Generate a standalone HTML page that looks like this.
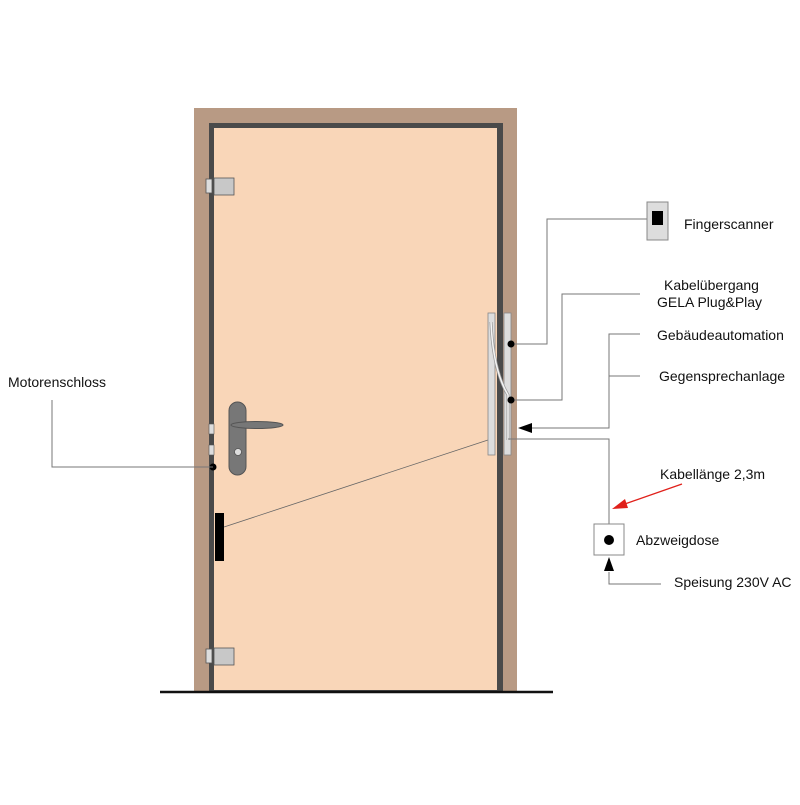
<!DOCTYPE html>
<html><head><meta charset="utf-8"><style>
body{margin:0;background:#fff}
svg text{font-family:"Liberation Sans",sans-serif;font-size:14px;fill:#111}
</style></head><body>
<svg width="800" height="800" viewBox="0 0 800 800" xmlns="http://www.w3.org/2000/svg">
<rect width="800" height="800" fill="#fff"/>
<rect x="194" y="108" width="323" height="584" fill="#b89a84"/>
<rect x="209" y="123" width="294" height="569" fill="#4a4a4a"/>
<rect x="214" y="128" width="283" height="562" fill="#f9d6b8"/>
<line x1="160" y1="692" x2="553" y2="692" stroke="#111" stroke-width="2.5"/>
<rect x="206" y="179" width="6" height="14" fill="#ddd" stroke="#555" stroke-width="0.8"/>
<rect x="214" y="178" width="20" height="17" fill="#c8c8c8" stroke="#555" stroke-width="0.8"/>
<rect x="206" y="649" width="6" height="14" fill="#ddd" stroke="#555" stroke-width="0.8"/>
<rect x="214" y="648" width="20" height="17" fill="#c8c8c8" stroke="#555" stroke-width="0.8"/>
<rect x="209" y="424" width="5" height="10" fill="#ddd" stroke="#555" stroke-width="0.6"/>
<rect x="209" y="445" width="5" height="10" fill="#ddd" stroke="#555" stroke-width="0.6"/>
<rect x="229" y="402" width="17" height="73" rx="8.5" fill="#777" stroke="#555"/>
<ellipse cx="257" cy="425" rx="26" ry="3.5" fill="#777" stroke="#555"/>
<circle cx="238" cy="452" r="3.5" fill="#ddd" stroke="#555" stroke-width="0.8"/>
<rect x="215" y="513" width="9" height="48" fill="#000"/>
<line x1="224" y1="527" x2="488" y2="440" stroke="#666" stroke-width="0.8"/>
<rect x="488" y="313" width="7" height="142" fill="#ddd" stroke="#888" stroke-width="0.8"/>
<rect x="504" y="313" width="7" height="142" fill="#ddd" stroke="#888" stroke-width="0.8"/>
<path d="M491 322 Q493 370 508 395 L508 440" fill="none" stroke="#999" stroke-width="3"/>
<path d="M491 322 Q493 370 508 395 L508 440" fill="none" stroke="#f4f4f4" stroke-width="1.5"/>
<g stroke="#777" stroke-width="1" fill="none">
<polyline points="511,344 547,344 547,219 648,219"/>
<polyline points="511,400 562,400 562,294 640,294"/>
<polyline points="528,428 609,428 609,334 640,334"/>
<line x1="609" y1="376" x2="640" y2="376"/>
<polyline points="508,439 609,439 609,524"/>
<polyline points="609,572 609,584 661,584"/>
</g>
<circle cx="511" cy="344" r="3.5" fill="#000"/>
<circle cx="511" cy="400" r="3.5" fill="#000"/>
<circle cx="213" cy="467" r="3.5" fill="#000"/>
<polygon points="518,428 532,423 532,433" fill="#000"/>
<polygon points="609,557 604,571 614,571" fill="#000"/>
<polyline points="52,400 52,467 213,467" fill="none" stroke="#777"/>
<rect x="647" y="202" width="21" height="38" fill="#ddd" stroke="#888"/>
<rect x="652" y="211" width="11" height="14" fill="#000"/>
<rect x="594" y="524" width="30" height="31" fill="#fff" stroke="#888"/>
<circle cx="609" cy="540" r="5" fill="#000"/>
<line x1="682" y1="484" x2="622" y2="505" stroke="#e0201a" stroke-width="1.3"/>
<polygon points="612,509 625,499 628,508" fill="#e0201a"/>
<text x="684" y="229">Fingerscanner</text>
<text x="664" y="290">Kabelübergang</text>
<text x="657" y="307">GELA Plug&amp;Play</text>
<text x="657" y="340">Gebäudeautomation</text>
<text x="659" y="381">Gegensprechanlage</text>
<text x="660" y="479">Kabellänge 2,3m</text>
<text x="636" y="545">Abzweigdose</text>
<text x="674" y="587">Speisung 230V AC</text>
<text x="8" y="387">Motorenschloss</text>
</svg>
</body></html>
